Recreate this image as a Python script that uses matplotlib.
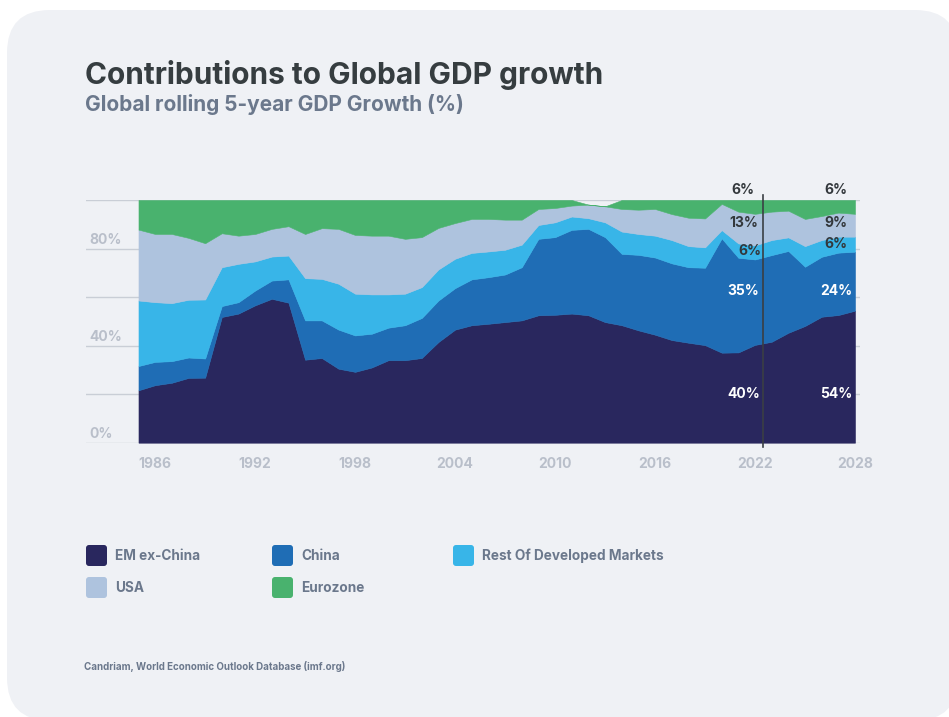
import matplotlib.pyplot as plt
from matplotlib.patches import FancyBboxPatch

plt.rcParams['font.family'] = ['Inter', 'DejaVu Sans']

# rolling 5-year contributions to global GDP growth, in % of the total
years = list(range(1985, 2029))
em_ex_china = [21.6, 23.7, 24.7, 26.7, 26.8, 51.8, 53.2, 56.6, 59.3, 57.7,
               34.2, 34.9, 30.5, 29.2, 31.0, 34.0, 34.0, 34.9, 41.5, 46.6,
               48.4, 49.0, 49.7, 50.4, 52.5, 52.7, 53.2, 52.5, 49.7, 48.4,
               46.3, 44.5, 42.3, 41.2, 40.2, 37.1, 37.2, 40.3, 41.6, 45.3,
               48.1, 51.9, 52.6, 54.4]
china = [10.0, 9.6, 8.9, 8.4, 7.9, 4.5, 4.7, 6.1, 7.5, 9.6,
         16.2, 15.5, 16.1, 15.0, 13.9, 13.4, 14.4, 16.5, 17.1, 17.1,
         18.9, 19.2, 19.6, 21.9, 31.5, 32.0, 34.5, 35.6, 35.0, 29.4,
         31.1, 31.8, 31.6, 31.1, 31.9, 47.1, 39.0, 35.2, 35.7, 33.7,
         24.4, 24.7, 25.7, 24.3]
rest_dm = [27.0, 24.6, 23.9, 23.8, 24.3, 16.0, 15.8, 12.0, 9.9, 9.8,
           17.4, 17.1, 18.9, 17.2, 16.2, 13.7, 13.0, 12.7, 12.8, 12.1,
           10.9, 10.6, 10.2, 9.3, 5.7, 6.1, 5.5, 4.4, 6.1, 9.2,
           8.6, 9.0, 9.6, 8.7, 8.4, 3.4, 5.9, 5.8, 6.2, 5.6,
           8.5, 6.9, 6.6, 6.2]
usa = [29.2, 28.1, 28.5, 25.5, 23.2, 14.0, 11.6, 11.3, 11.4, 12.1,
       18.2, 20.9, 22.6, 24.2, 24.2, 24.2, 22.6, 20.6, 17.1, 14.7,
       14.0, 13.4, 12.4, 10.3, 6.6, 5.9, 4.5, 5.6, 6.6, 9.3,
       10.0, 11.0, 10.7, 11.7, 11.9, 10.8, 13.1, 13.0, 11.7, 11.0,
       11.2, 9.9, 9.9, 9.4]
eurozone = [12.2, 14.0, 14.0, 15.6, 17.8, 13.7, 14.7, 14.0, 11.9, 10.8,
            14.0, 11.6, 11.9, 14.4, 14.7, 14.7, 16.0, 15.3, 11.5, 9.5,
            7.8, 7.8, 8.1, 8.1, 3.7, 3.3, 2.3, 0.0, 0.0, 3.7,
            4.0, 3.7, 5.8, 7.3, 7.6, 1.6, 4.8, 5.7, 4.8, 4.4,
            7.8, 6.6, 5.2, 5.7]

names = ["EM ex-China", "China", "Rest Of Developed Markets", "USA", "Eurozone"]
colors = ["#29275e", "#1f6db5", "#38b5e8", "#aec3de", "#49b26e"]
series = [em_ex_china, china, rest_dm, usa, eurozone]

grey_txt = "#6b788c"
light_txt = "#b9bfca"

fig = plt.figure(figsize=(9.49, 7.17), dpi=100)
fig.patch.set_facecolor("white")

# rounded card behind everything (pixel coordinates)
card = FancyBboxPatch((7, -3.5), 951, 710.5, boxstyle="round,pad=0,rounding_size=43",
                      transform=None, fc="#eff1f5", ec="none", zorder=-10)
fig.patches.append(card)

ax = fig.add_axes([86 / 949, 274.3 / 717, 774 / 949, 242.7 / 717])
ax.set_facecolor("none")

polys = ax.stackplot(years, *series, colors=colors, linewidth=0.4)
for p, c in zip(polys, colors):
    p.set_edgecolor(c)

ax.set_xlim(1981.85, 2028.3)
ax.set_ylim(0, 100)
ax.set_yticks(range(0, 101, 20))
ax.yaxis.grid(True, color="#c9ced6", lw=1)
ax.set_axisbelow(True)
ax.tick_params(axis="y", length=0, labelleft=False)
for s in ax.spines.values():
    s.set_visible(False)

for v in [0, 40, 80]:
    ax.annotate(f"{v}%", xy=(0.005, v), xycoords=("axes fraction", "data"),
                xytext=(0, 2), textcoords="offset pixels", va="bottom", ha="left",
                fontsize=10, fontweight="bold", color=light_txt)

ax.set_xticks(range(1986, 2029, 6))
ax.tick_params(axis="x", length=0, pad=10.5, labelsize=10, labelcolor=light_txt)
for lbl in ax.get_xticklabels():
    lbl.set_fontweight("bold")

# marker for the last actual year
ax.plot([2022.5, 2022.5], [-1.8, 102], color="#3a3f44", lw=1.2, clip_on=False)

# share labels for 2022 and 2028
label_y = [20.2, 62.7, 78.9, 90.7, 104.0]
label_col = ["white", "white", "#33383c", "#33383c", "#33383c"]
for yr, xpos, rodm_y in [(2022, 2021.3, 78.9), (2028, 2026.85, 81.8)]:
    i = years.index(yr)
    for k, s in enumerate(series):
        y = rodm_y if k == 2 else label_y[k]
        x = 2021.7 if (yr == 2022 and k == 2) else xpos
        ax.text(x, y, f"{s[i]:.0f}%", ha="center", va="center", fontsize=10,
                fontweight="bold", color=label_col[k], clip_on=False)

# titles
fig.text(85 / 949, 1 - 84 / 717, "Contributions to Global GDP growth", fontsize=21.5,
         fontweight="bold", color="#363d40", va="baseline", ha="left")
fig.text(85 / 949, 1 - 111 / 717, "Global rolling 5-year GDP Growth (%)", fontsize=15,
         fontweight="bold", color=grey_txt, va="baseline", ha="left")

# legend, laid out in rows
legend_pos = [(86, 545), (272, 545), (453, 545), (86, 577), (272, 577)]
for (px, py), name, c in zip(legend_pos, names, colors):
    sq = FancyBboxPatch((px, 717 - py - 21), 21, 21, boxstyle="round,pad=0,rounding_size=3",
                        transform=None, fc=c, ec="none")
    fig.patches.append(sq)
    fig.text((px + 29) / 949, 1 - (py + 10.5) / 717, name, fontsize=9.8,
             fontweight="bold", color=grey_txt, va="center", ha="left")

fig.text(84 / 949, 1 - 667 / 717, "Candriam, World Economic Outlook Database (imf.org)",
         fontsize=7, fontweight="bold", color=grey_txt, va="center", ha="left")

fig.savefig("out.png", dpi=100)
